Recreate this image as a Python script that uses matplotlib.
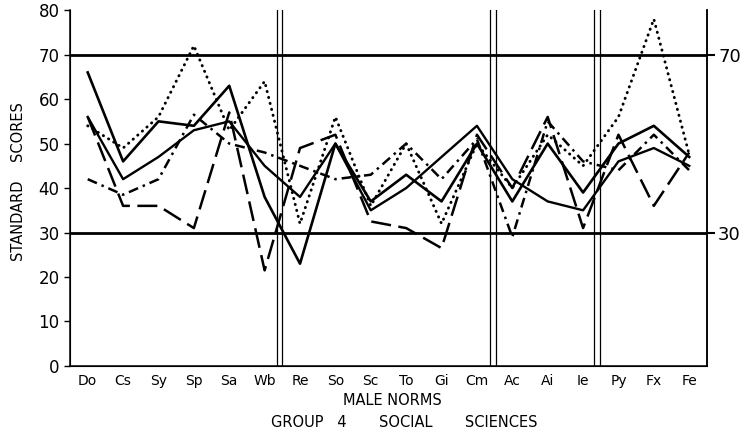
import numpy as np
import matplotlib.pyplot as plt

# CPI scale abbreviations along the bottom
scales = ["Do", "Cs", "Sy", "Sp", "Sa", "Wb", "Re", "So", "Sc", "To",
          "Gi", "Cm", "Ac", "Ai", "Ie", "Py", "Fx", "Fe"]

# standard scores of the five profiles
profile_solid_a = [66, 46, 55, 54, 63, 38, 23, 50, 37, 43, 37, 50, 37, 50, 39, 50, 54, 47]
profile_solid_b = [56, 42, 47, 53, 55, 45, 38, 50, 35, 40, 47, 54, 42, 37, 35, 46, 49, 45]
profile_dotted = [54, 49, 56, 72, 53, 64, 32, 56, 36, 50, 32, 50, 40, 52, 45, 56, 78, 47.5]
profile_dashed = [56, 36, 36, 31, 57, 21.5, 49, 52, 32.5, 31, 26.5, 52, 40, 56, 31, 52, 36, 48]
profile_dashdot = [42, 38.5, 42, 56.5, 50, 48, 45, 42, 43, 50, 42, 51, 29, 55, 46, 44, 52, 44]

y_ticks = [0, 10, 20, 30, 40, 50, 60, 70, 80]
band_limits = [30, 70]
# boundaries between the scale clusters (drawn as double rules)
cluster_breaks = [(5.35, 5.49), (11.37, 11.54), (14.31, 14.48)]

fig = plt.figure(figsize=(7.41, 4.42), dpi=100)
ax = fig.add_axes([0.0945, 0.172, 0.8595, 0.805])
x = np.arange(len(scales))

ax.plot(x, profile_solid_a, color="black", lw=1.9)
ax.plot(x, profile_solid_b, color="black", lw=1.7)
ax.plot(x, profile_dotted, color="black", lw=2.1, linestyle=(0, (0.1, 2.0)),
        dash_capstyle="round")
ax.plot(x, profile_dashed, color="black", lw=1.8, linestyle=(0, (8, 3)))
ax.plot(x, profile_dashdot, color="black", lw=1.8, linestyle=(0, (4, 2, 1, 2)))

for lim in band_limits:
    ax.axhline(lim, color="black", lw=2.0, zorder=1)
for a, b in cluster_breaks:
    ax.axvline(a, color="black", lw=0.9, zorder=1)
    ax.axvline(b, color="black", lw=0.9, zorder=1)

ax.set_xlim(-0.5, 17.5)
ax.set_ylim(0, 80)
ax.set_xticks(x)
ax.set_xticklabels(scales, fontsize=10)
ax.set_yticks(y_ticks)
ax.tick_params(axis="y", labelsize=12, length=4, width=1)
ax.tick_params(axis="x", length=0, pad=6)
ax.spines["top"].set_visible(False)
for s in ("left", "right", "bottom"):
    ax.spines[s].set_linewidth(1.1)

ax2 = ax.twinx()
ax2.set_ylim(0, 80)
ax2.set_yticks(band_limits)
ax2.tick_params(axis="y", labelsize=13, length=6, width=1.5, pad=2)
ax2.spines["top"].set_visible(False)
ax2.spines["right"].set_linewidth(1.1)

fig.text(0.025, 0.59, "STANDARD    SCORES", rotation=90, ha="center",
         va="center", fontsize=10.5)
fig.text(0.53, 0.094, "MALE NORMS", ha="center", va="center", fontsize=10.5)
fig.text(0.545, 0.043, "GROUP   4       SOCIAL       SCIENCES", ha="center",
         va="center", fontsize=10.5)

fig.savefig("out.png", dpi=100)
